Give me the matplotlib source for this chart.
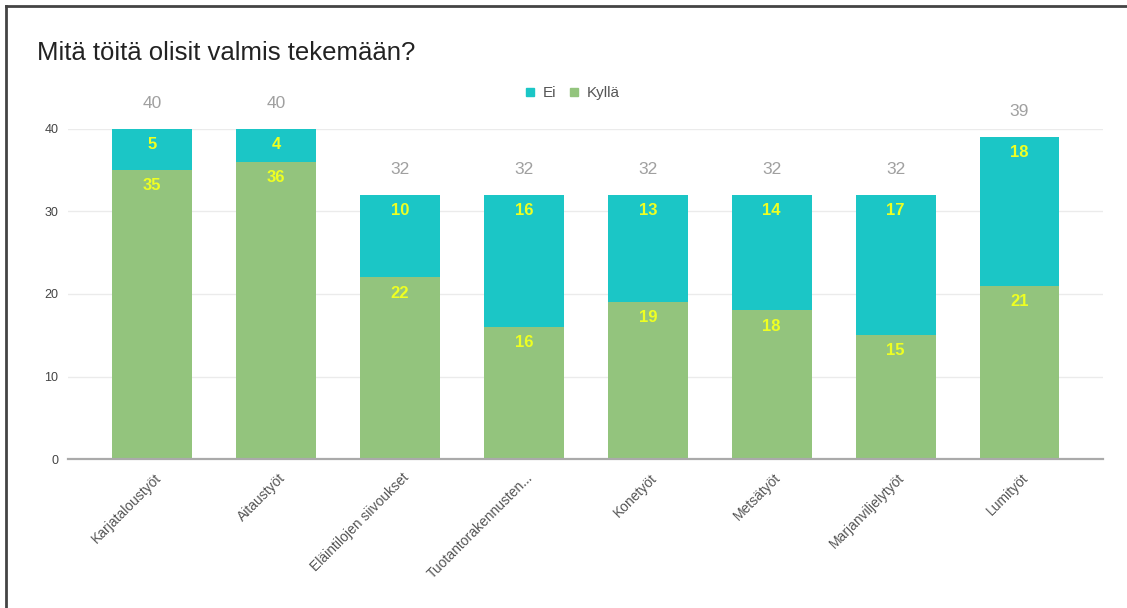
import numpy as np
import matplotlib.pyplot as plt
from matplotlib.lines import Line2D
from matplotlib.transforms import ScaledTranslation

plt.rcParams['font.family'] = ['Liberation Sans', 'DejaVu Sans']

categories = ['Karjataloustyöt', 'Aitaustyöt', 'Eläintilojen siivoukset',
              'Tuotantorakennusten...', 'Konetyöt', 'Metsätyöt',
              'Marjanviljelytyöt', 'Lumityöt']
kylla = [35, 36, 22, 16, 19, 18, 15, 21]
ei = [5, 4, 10, 16, 13, 14, 17, 18]
yticks = [0, 10, 20, 30, 40]

c_ei = '#1bc6c6'
c_kylla = '#93c47d'

fig = plt.figure(figsize=(11.27, 6.08), dpi=100)
ax = fig.add_axes([0.0603, 0.245, 0.918, 0.543])

x = np.arange(len(categories))
kylla = np.array(kylla)
ei = np.array(ei)
total = kylla + ei
w = 0.645

ax.bar(x, kylla, w, color=c_kylla, zorder=2)
ax.bar(x, ei, w, bottom=kylla, color=c_ei, zorder=2)

for i in range(len(x)):
    ax.text(x[i], kylla[i] - 1.9, str(kylla[i]), ha='center', va='center',
            color='#eeff22', fontsize=12, fontweight='bold', zorder=3)
    ax.text(x[i], total[i] - 1.9, str(ei[i]), ha='center', va='center',
            color='#eeff22', fontsize=12, fontweight='bold', zorder=3)
    ax.text(x[i], total[i] + 3.1, str(total[i]), ha='center', va='center',
            color='#a0a0a0', fontsize=12.5, clip_on=False)

ax.set_xlim(-0.68, 7.67)
ax.set_ylim(0, 40)
ax.set_yticks(yticks)
ax.set_yticklabels([str(t) for t in yticks], fontsize=9, color='#444444')
ax.set_xticks(x)
ax.set_xticklabels(categories, rotation=45, ha='right', va='center',
                   rotation_mode='anchor', fontsize=10, color='#555555')
ax.tick_params(axis='y', length=0, pad=7)
ax.tick_params(axis='x', length=0, pad=12)
shift = ScaledTranslation(0.07, 0, fig.dpi_scale_trans)
for lab in ax.get_xticklabels():
    lab.set_transform(lab.get_transform() + shift)
ax.grid(axis='y', color='#ebebeb', linewidth=1, zorder=0)
ax.set_axisbelow(True)
for s in ['top', 'right', 'left']:
    ax.spines[s].set_visible(False)
ax.spines['bottom'].set_color('#aaaaaa')
ax.spines['bottom'].set_linewidth(1.6)
ax.spines['bottom'].set_zorder(4)

fig.text(0.033, 0.913, 'Mitä töitä olisit valmis tekemään?', fontsize=18.5,
         color='#222222', va='center')

handles = [Line2D([], [], marker='s', linestyle='', color=c_ei, markersize=5.5),
           Line2D([], [], marker='s', linestyle='', color=c_kylla, markersize=5.5)]
fig.legend(handles, ['Ei', 'Kyllä'], loc='center', bbox_to_anchor=(0.506, 0.847),
           ncol=2, frameon=False, fontsize=11, handletextpad=0.2,
           handlelength=1.2, columnspacing=0.6, labelcolor='#555555')

# frame lines of the screenshot
fig.add_artist(Line2D([0.005, 1.0], [0.99, 0.99], color='#444444', linewidth=2))
fig.add_artist(Line2D([0.005, 0.005], [0.0, 0.99], color='#444444', linewidth=2))

fig.savefig('out.png', dpi=100)
